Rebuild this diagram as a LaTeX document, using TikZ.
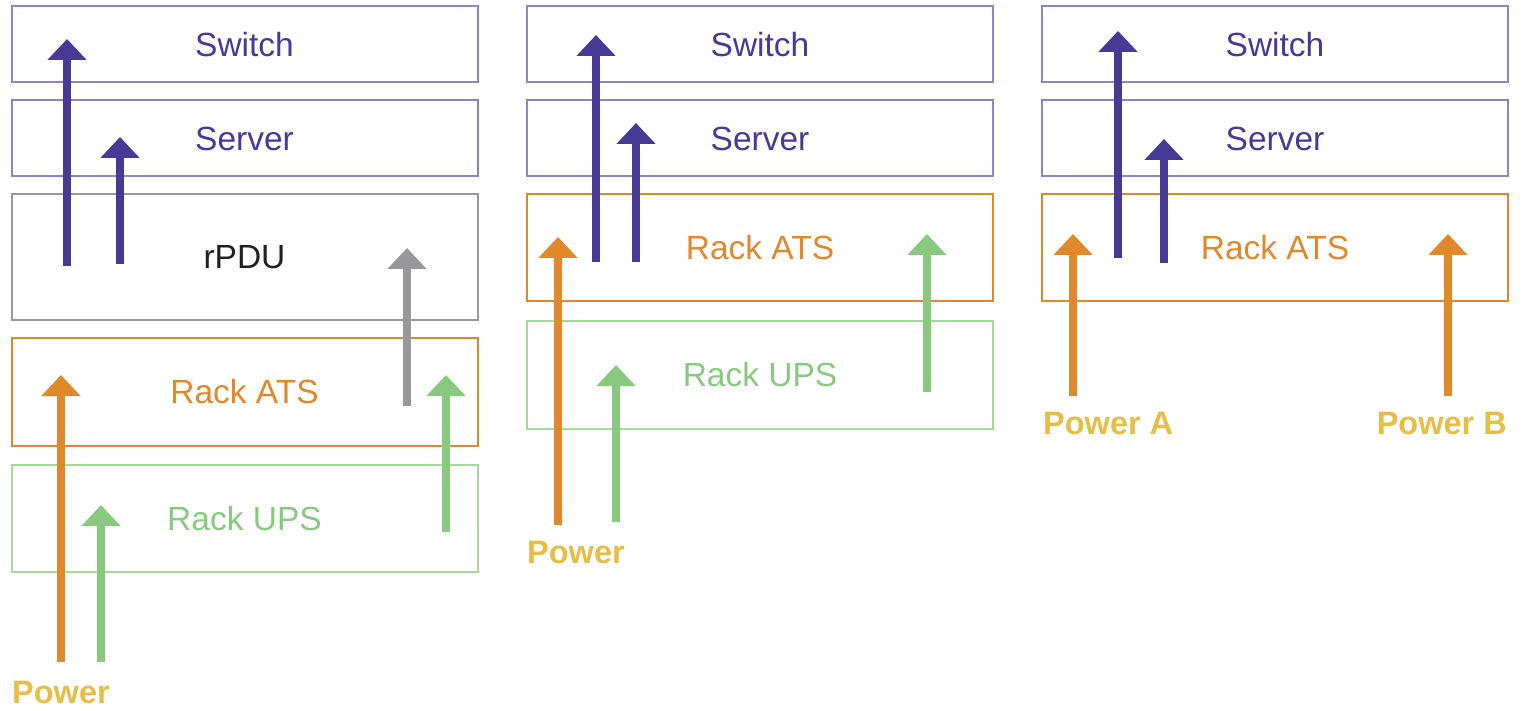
\documentclass[tikz,border=0pt]{standalone}
\usepackage{fontspec}
\setmainfont{Liberation Sans}
\usetikzlibrary{arrows.meta}
\definecolor{pur}{HTML}{463A96}
\definecolor{purl}{HTML}{8C86C8}
\definecolor{org}{HTML}{E0882A}
\definecolor{grn}{HTML}{88C97F}
\definecolor{grnl}{HTML}{A9D89E}
\definecolor{gry}{HTML}{98989B}
\definecolor{ylw}{HTML}{E6BE45}
\definecolor{txt}{HTML}{231F20}
\begin{document}
\begin{tikzpicture}[x=1pt,y=-1pt,
  box/.style={draw, line width=2pt, minimum width=466pt, inner sep=0pt, font=\fontsize{33.5}{37}\selectfont},
  swbox/.style={box, draw=purl, text=pur, minimum height=76pt},
  atsbox/.style={box, draw=org, text=org, minimum height=107pt},
  upsbox/.style={box, draw=grnl, text=grn, minimum height=107pt},
  pdubox/.style={box, draw=gry, text=txt, minimum height=126pt},
  flow/.style={line width=8pt, -{Triangle[width=38pt,length=21pt]}},
  pwr/.style={font=\fontsize{32.5}{36}\selectfont\bfseries, text=ylw, inner sep=0pt}]
\useasboundingbox (0,0) rectangle (1524,711);
% ---------- panel 1 ----------
\node[swbox]  (sw1)  at (244.5,44.5) {Switch};
\node[swbox]  (sv1)  at (244.5,138.5) {Server};
\node[pdubox] (pdu1) at (244.5,257.5) {rPDU};
\node[atsbox] (ats1) at (244.5,392) {Rack ATS};
\node[upsbox] (ups1) at (244.5,518.5) {Rack UPS};
\node[pwr, anchor=west] (pw1) at (12,692.5) {Power};
\coordinate (a1s) at (67,266);  \coordinate (a1e) at (67,39);
\coordinate (b1s) at (120,264); \coordinate (b1e) at (120,137);
\coordinate (c1s) at (407,406); \coordinate (c1e) at (407,248);
\coordinate (d1s) at (61,662);  \coordinate (d1e) at (61,375);
\coordinate (e1s) at (101,662); \coordinate (e1e) at (101,505);
\coordinate (f1s) at (446,532); \coordinate (f1e) at (446,375);
\draw[flow, pur] (a1s) -- (a1e);
\draw[flow, pur] (b1s) -- (b1e);
\draw[flow, gry] (c1s) -- (c1e);
\draw[flow, org] (d1s) -- (d1e);
\draw[flow, grn] (e1s) -- (e1e);
\draw[flow, grn] (f1s) -- (f1e);
% ---------- panel 2 ----------
\node[swbox]  (sw2)  at (760,44.5) {Switch};
\node[swbox]  (sv2)  at (760,138.5) {Server};
\node[atsbox] (ats2) at (760,248) {Rack ATS};
\node[upsbox] (ups2) at (760,375) {Rack UPS};
\node[pwr, anchor=west] (pw2) at (527,552.5) {Power};
\coordinate (a2s) at (596,262); \coordinate (a2e) at (596,35);
\coordinate (b2s) at (636,262); \coordinate (b2e) at (636,123);
\coordinate (d2s) at (558,525); \coordinate (d2e) at (558,237);
\coordinate (e2s) at (616,522); \coordinate (e2e) at (616,365);
\coordinate (f2s) at (927,392); \coordinate (f2e) at (927,234);
\draw[flow, pur] (a2s) -- (a2e);
\draw[flow, pur] (b2s) -- (b2e);
\draw[flow, org] (d2s) -- (d2e);
\draw[flow, grn] (e2s) -- (e2e);
\draw[flow, grn] (f2s) -- (f2e);
% ---------- panel 3 ----------
\node[swbox]  (sw3)  at (1275,44.5) {Switch};
\node[swbox]  (sv3)  at (1275,138.5) {Server};
\node[atsbox] (ats3) at (1275,248) {Rack ATS};
\node[pwr, anchor=west] (pwa) at (1043,423.5) {Power A};
\node[pwr, anchor=east] (pwb) at (1507,423.5) {Power B};
\coordinate (a3s) at (1118,258);  \coordinate (a3e) at (1118,31);
\coordinate (b3s) at (1164,263);  \coordinate (b3e) at (1164,139);
\coordinate (d3s) at (1073,396);  \coordinate (d3e) at (1073,234);
\coordinate (f3s) at (1448,396);  \coordinate (f3e) at (1448,234);
\draw[flow, pur] (a3s) -- (a3e);
\draw[flow, pur] (b3s) -- (b3e);
\draw[flow, org] (d3s) -- (d3e);
\draw[flow, org] (f3s) -- (f3e);
\end{tikzpicture}
\end{document}
